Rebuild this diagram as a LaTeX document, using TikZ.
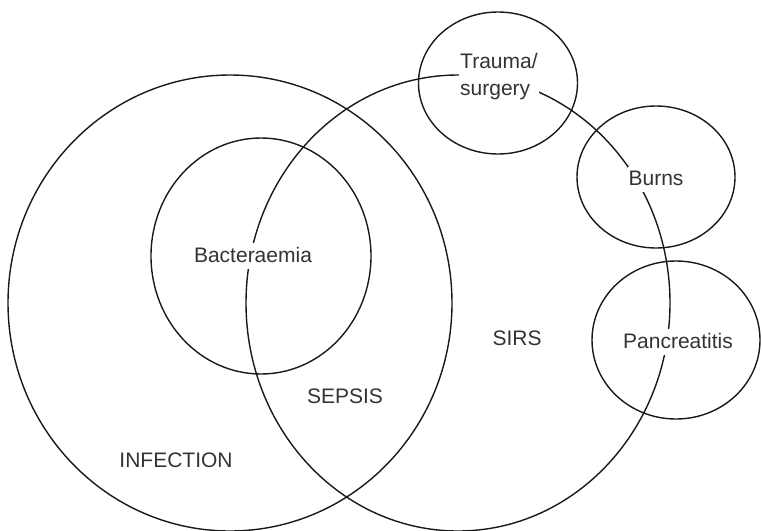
\documentclass[tikz,border=0pt]{standalone}
\usepackage{fontspec}
\setmainfont{Liberation Sans}
\usetikzlibrary{shapes.geometric}

\begin{document}
\begin{tikzpicture}[
    x=1pt, y=-1pt,
    every node/.style={font=\fontsize{21}{27}\selectfont, text=black!80},
    set/.style={ellipse, draw=black!90, line width=1.4pt, inner sep=0pt},
    setlabel/.style={fill=white, inner xsep=1pt, inner ysep=4pt, text depth=0.3em}
]
\useasboundingbox (0,0) rectangle (762,530);

% Draw the two big sets
\node[set, minimum width=444pt, minimum height=456pt] (infection) at (230,303) {};
\node[set, minimum width=424pt, minimum height=456pt] (sirs) at (458,303) {};

% Inner set and the small causes
\node[set, minimum width=220pt, minimum height=236pt] (bact) at (261,256) {};
\node[set, minimum width=159pt, minimum height=142pt] (trauma) at (498,83) {};
\node[set, minimum width=158pt, minimum height=142pt] (burns) at (656,177) {};
\node[set, minimum width=168pt, minimum height=158pt] (pancr) at (676,340) {};

% Labels (white boxes break the lines)
\node[setlabel, anchor=base] (bactlabel) at (253,262) {Bacteraemia};
\node[setlabel, align=left, anchor=north west] (traumalabel) at (459,49) {Trauma/\\surgery};
\node[setlabel, anchor=base] (burnslabel) at (656,185) {Burns};
\node[setlabel, anchor=base] (pancrlabel) at (678,348) {Pancreatitis};

\node[anchor=base] (sirslabel) at (517,345) {SIRS};
\node[anchor=base] (sepsislabel) at (345,403) {SEPSIS};
\node[anchor=base] (infectionlabel) at (176,467) {INFECTION};

\end{tikzpicture}
\end{document}
